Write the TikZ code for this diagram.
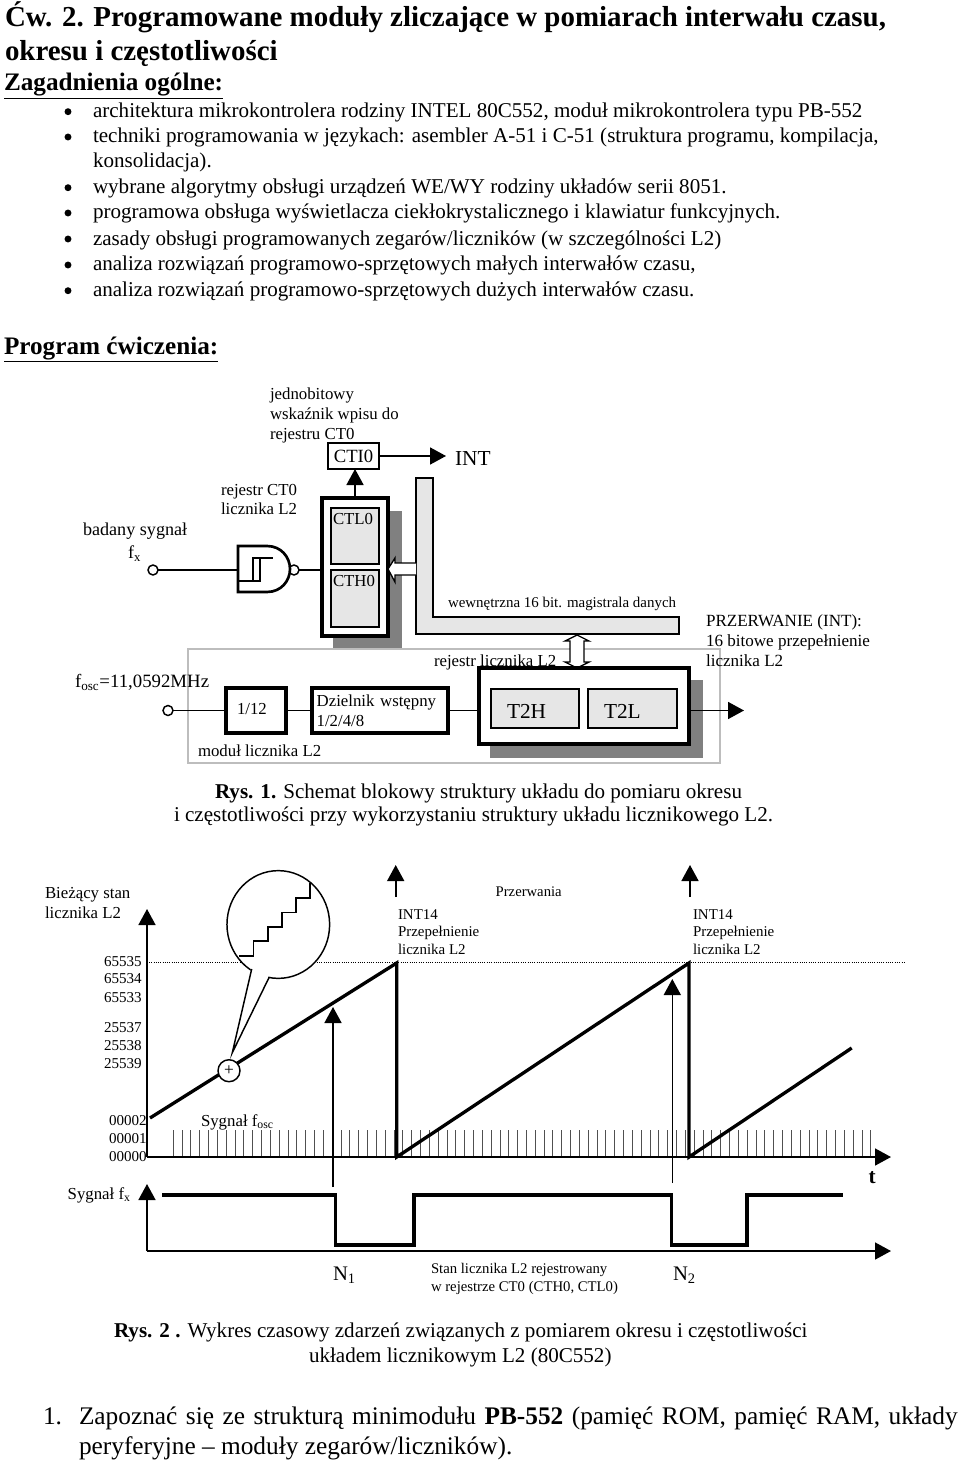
\documentclass[tikz,border=0pt]{standalone}
\usepackage{fontspec}
\setmainfont{Liberation Serif}
\usetikzlibrary{arrows.meta,positioning,shapes.geometric}
\definecolor{regfill}{HTML}{E6E6E6}
\definecolor{shadowgray}{HTML}{808080}
\definecolor{frameline}{HTML}{BDBDBD}
\definecolor{tickline}{HTML}{505050}
\tikzset{
  size/.style 2 args={minimum width=#1*0.75pt,minimum height=#2*0.75pt},
  txt/.style={inner sep=0pt,outer sep=0pt,anchor=base west},
  titletxt/.style={txt,font=\fontsize{21.7}{26}\selectfont\bfseries},
  headtxt/.style={txt,font=\fontsize{18.9}{23}\selectfont\bfseries},
  bodytxt/.style={txt,font=\fontsize{15.8}{19}\selectfont},
  note/.style={inner sep=0pt,outer sep=0pt,anchor=west,align=left,font=\fontsize{12.6}{14.8}\selectfont},
  small/.style={note,font=\fontsize{11.2}{13}\selectfont},
  digits/.style={inner sep=0pt,outer sep=0pt,anchor=east,font=\fontsize{11.3}{13}\selectfont},
  bullet/.style={circle,fill=black,inner sep=0pt,minimum size=5.2pt},
  block/.style={draw,fill=white,line width=1.1pt,inner sep=0pt,outer sep=0pt},
  thick block/.style={block,line width=2.4pt},
  reg/.style={block,fill=regfill},
  shade/.style={fill=shadowgray,inner sep=0pt,outer sep=0pt},
  pin/.style={circle,draw,fill=white,line width=1.1pt,inner sep=0pt,outer sep=0pt,minimum size=7.5pt},
  wire/.style={line width=1.1pt},
  flow/.style={-{Triangle[length=12pt,width=12.75pt]},line width=1.2pt},
  hollow/.style={draw,fill=white,line width=1pt},
  trace/.style={line width=2.5pt,line join=miter},
}
\begin{document}
\begin{tikzpicture}[x=0.75pt,y=-0.75pt]
\useasboundingbox (0,0) rectangle (960,1462);
% header
\node[titletxt] (title1) at (5,27) {Ćw. 2. Programowane moduły zliczające w pomiarach interwału czasu,};
\node[titletxt] (title2) at (5,61) {okresu i częstotliwości};
\node[headtxt] (topics) at (4,90.5) {\underline{Zagadnienia ogólne:}};
\foreach \y [count=\i] in {111.7,137,187.7,213,239,265,290.7}
  \node[bullet] (dot\i) at (68,\y) {};
\node[bodytxt] (topic1) at (93,117.3) {architektura mikrokontrolera rodziny INTEL 80C552, moduł mikrokontrolera typu PB-552};
\node[bodytxt] (topic2) at (93,143) {techniki programowania w językach: asembler A-51 i C-51 (struktura programu, kompilacja,};
\node[bodytxt] (topic2b) at (93,168) {konsolidacja).};
\node[bodytxt] (topic3) at (93,193.5) {wybrane algorytmy obsługi urządzeń WE/WY rodziny układów serii 8051.};
\node[bodytxt] (topic4) at (93,219) {programowa obsługa wyświetlacza ciekłokrystalicznego i klawiatur funkcyjnych.};
\node[bodytxt] (topic5) at (93,245) {zasady obsługi programowanych zegarów/liczników (w szczególności L2)};
\node[bodytxt] (topic6) at (93,270.7) {analiza rozwiązań programowo-sprzętowych małych interwałów czasu,};
\node[bodytxt] (topic7) at (93,296.5) {analiza rozwiązań programowo-sprzętowych dużych interwałów czasu.};
\node[headtxt] (program) at (4,354) {\underline{Program ćwiczenia:}};

% rys. 1
\node[shade,size={69}{138}] (ctShade) at (367.5,580) {};
\node[block,draw=frameline,size={532}{114}] (moduleFrame) at (454,706) {};
\node[shade,size={213}{78}] (t2Shade) at (596.5,719) {};

\node[thick block,size={66}{138}] (ctBox) at (355,567) {};
\node[reg,size={48}{56}] (ctlReg) at (355,536) {};
\node[reg,size={48}{57},below=4.5pt of ctlReg] (cthReg) {};
\node[note,anchor=north west] (ctlText) at (333,513) {CTL0};
\node[note,anchor=north west] (cthText) at (333,575) {CTH0};
\node[block,size={51}{26},font=\fontsize{14}{15}\selectfont] (ctiBox) at (353.5,456) {CTI0};
\node[txt,font=\fontsize{16}{18}\selectfont] (intText) at (455,465) {INT};
\draw[flow] (ctiBox.east) -- ([xshift=-6.75pt]ctiBox.east -| intText.west);
\draw[flow] (ctBox.north) -- (ctBox.north |- ctiBox.south);

\node[pin] (fxPin) at (153,570) {};
\coordinate (gateIn) at (238,570);
\node[pin] (gateOut) at (294,570) {};
\draw[wire] (fxPin) -- (gateIn);
\draw[thick block,fill=white,line width=2pt] (238,546) -- (267,546) .. controls (281,546) and (290,557) .. (290,569) .. controls (290,581) and (281,592) .. (267,592) -- (238,592) -- cycle;
\draw[wire,line width=0.8pt] (239,581) -- (260,581) -- (260,558);
\draw[wire,line width=0.8pt] (253,581) -- (253,558) -- (273,558);
\draw[wire] (gateOut) -- (gateOut -| ctBox.west);

\node[note] (flagNote) at (270,415.5) {jednobitowy\\wskaźnik wpisu do\\rejestru CT0};
\node[note] (ctNote) at (221,499.5) {rejestr CT0\\licznika L2};
\node[note,font=\fontsize{13.6}{15}\selectfont] (fxNote) at (83,531) {badany sygnał};
\node[note,font=\fontsize{13.6}{15}\selectfont] (fxName) at (128,554) {f\textsubscript{x}};

\draw[reg] (416,478) -- (433,478) -- (433,617) -- (679,617) -- (679,634) -- (416,634) -- cycle;
\draw[hollow] (416,563) -- (395,563) -- (395,558) -- (388,569) -- (395,582) -- (395,575) -- (416,575);
\draw[hollow] (577,635) -- (589,641) -- (584,641) -- (584,662) -- (589,662) -- (577,668) -- (565,662) -- (570,662) -- (570,641) -- (565,641) -- cycle;
\node[note,font=\fontsize{11.2}{13}\selectfont] (busNote) at (448,604) {wewnętrzna 16 bit. magistrala danych};

\node[note] (regNote) at (434,662) {rejestr licznika L2};
\node[note,font=\fontsize{14.1}{16}\selectfont] (oscNote) at (75,682) {f\textsubscript{osc}=11,0592MHz};
\node[pin] (oscPin) at (168,710.5) {};
\node[thick block,size={60}{45}] (divTwelve) at (256,710.5) {};
\node[note] (divTwelveText) at (237,709.5) {1/12};
\node[thick block,size={135}{45},text width=95pt,inner xsep=3.5pt,align=left,right=19.5pt of divTwelve,font=\fontsize{12.6}{15}\selectfont] (prescaler) {Dzielnik wstępny\\1/2/4/8};
\node[thick block,size={210}{76}] (t2Box) at (584,706) {};
\node[reg,size={88}{39}] (t2h) at (535,708.5) {};
\node[reg,size={89}{39},right=6.75pt of t2h] (t2l) {};
\node[note,font=\fontsize{16}{18}\selectfont] (t2hText) at (507,711) {T2H};
\node[note,font=\fontsize{16}{18}\selectfont] (t2lText) at (604,711) {T2L};
\coordinate (t2Out) at (744,710.5);
\draw[wire] (oscPin) -- (divTwelve);
\draw[wire] (divTwelve) -- (prescaler);
\draw[wire] (prescaler.east) -- (prescaler.east -| t2Box.west);
\draw[flow] (t2Out -| t2Box.east) -- (t2Out);
\node[note] (moduleNote) at (198,751) {moduł licznika L2};
\node[note,font=\fontsize{12.8}{15}\selectfont] (intNote) at (706,641) {PRZERWANIE (INT):\\16 bitowe przepełnienie\\licznika L2};
\node[bodytxt] (cap1) at (215,798) {\textbf{Rys. 1.} Schemat blokowy struktury układu do pomiaru okresu};
\node[bodytxt] (cap1b) at (174,821) {i częstotliwości przy wykorzystaniu struktury układu licznikowego L2.};

% rys. 2
\coordinate (axisTop) at (147,909);
\coordinate (origin) at (147,1157);
\coordinate (tEnd) at (891,1157);
\coordinate (lowTop) at (147,1184);
\coordinate (lowOrigin) at (147,1251);
\coordinate (lowEnd) at (891,1251);
\draw[densely dotted,line width=0.7pt] (149,962.5) -- (904,962.5);
\foreach \i in {0,...,79}
  \draw[tickline,line width=0.75pt] (173.3+8.83*\i,1130) -- (173.3+8.83*\i,1157);
\draw[flow] (origin) -- (axisTop);
\draw[flow] (origin) -- (tEnd);
\draw[flow] (lowOrigin) -- (lowTop);
\draw[flow] (lowOrigin) -- (lowEnd);
\draw[flow] (395.7,897) -- (395.7,865);
\draw[flow] (690,897) -- (690,865);
\draw[flow] (333,1187) -- (333,1007);
\draw[flow] (672.3,1183) -- (672.3,979);
\draw[trace] (150,1118) -- (396.7,963) -- (396.7,1157) -- (689,963) -- (689,1157) -- (851.7,1048);
\draw[trace] (162.3,1195) -- (335.7,1195) -- (335.7,1245) -- (414,1245) -- (414,1195) -- (671.7,1195) -- (671.7,1245) -- (747,1245) -- (747,1195) -- (843,1195);

\node[pin,minimum size=16.5pt,font=\fontsize{13}{13}\selectfont] (plusMark) at (229,1070.7) {+};
\node[pin,ellipse,minimum width=77pt,minimum height=80.8pt] (bubble) at (278.3,924.5) {};
\coordinate (tailTip) at (232.3,1052.7);
\fill[white] (251.7,966) -- (tailTip) -- (269.3,975) -- cycle;
\draw[wire] (251.7,969) -- (tailTip) -- (269.3,977);
\draw[line width=1.2pt] (239,956) -- (253.3,956) -- (253.3,941) -- (267.7,941) -- (267.7,926.7) -- (281.7,926.7) -- (281.7,912.3) -- (296,912.3) -- (296,897.7) -- (310,897.7) -- (310,882.7);

\node[note] (axisNote) at (45,903) {Bieżący stan\\licznika L2};
\node[note,font=\fontsize{11}{13}\selectfont] (irqNote) at (495.7,891.5) {Przerwania};
\node[small] (ovf1) at (398,932) {INT14\\Przepełnienie\\licznika L2};
\node[small] (ovf2) at (693,932) {INT14\\Przepełnienie\\licznika L2};
\node[digits] (v1) at (141.7,961.5) {65535};
\node[digits] (v2) at (141.7,979) {65534};
\node[digits] (v3) at (141.7,997.5) {65533};
\node[digits] (v4) at (141.7,1028) {25537};
\node[digits] (v5) at (141.7,1045.7) {25538};
\node[digits] (v6) at (141.7,1063.7) {25539};
\node[digits] (v7) at (146.7,1121) {00002};
\node[digits] (v8) at (146.7,1139) {00001};
\node[digits] (v9) at (146.7,1157) {00000};
\node[note] (oscSignal) at (201,1122) {Sygnał f\textsubscript{osc}};
\node[note] (fxSignal) at (67.7,1195) {Sygnał f\textsubscript{x}};
\node[note,font=\fontsize{16}{18}\selectfont\bfseries] (tName) at (868.5,1178) {t};
\node[note,font=\fontsize{15.5}{18}\selectfont] (n1) at (333,1275) {N\textsubscript{1}};
\node[note,font=\fontsize{15.5}{18}\selectfont] (n2) at (673,1275) {N\textsubscript{2}};
\node[small,font=\fontsize{11.05}{13}\selectfont] (stateNote) at (431,1279) {Stan licznika L2 rejestrowany\\w rejestrze CT0 (CTH0, CTL0)};
\node[bodytxt] (cap2) at (114,1337) {\textbf{Rys. 2}\textbf{ .} Wykres czasowy zdarzeń związanych z pomiarem okresu i częstotliwości};
\node[bodytxt] (cap2b) at (309,1362) {układem licznikowym L2 (80C552)};

% program
\node[txt,font=\fontsize{19}{22}\selectfont] (item1) at (43,1424) {1.};
\node[txt,font=\fontsize{19}{22}\selectfont] (item1a) at (79,1424) {\makebox[659pt][s]{Zapoznać się ze strukturą minimodułu \textbf{PB-552} (pamięć ROM, pamięć RAM, układy}};
\node[txt,font=\fontsize{19}{22}\selectfont] (item1b) at (79,1454) {peryferyjne – moduły zegarów/liczników).};
\end{tikzpicture}
\end{document}
